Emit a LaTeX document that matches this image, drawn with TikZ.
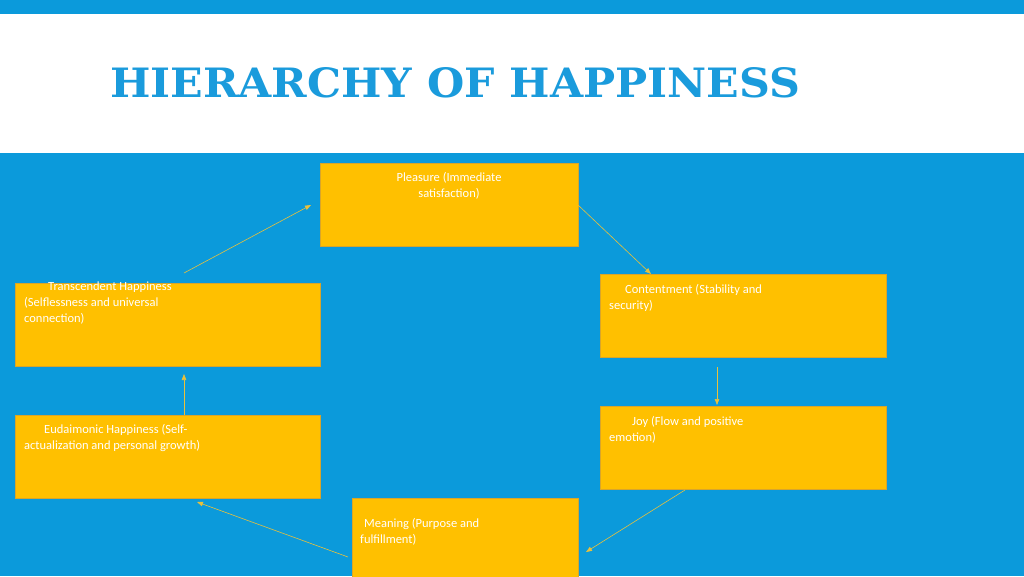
\documentclass[tikz,border=0pt]{standalone}
\usepackage{fontspec}
\setmainfont{Carlito}
\newfontfamily\titlefont{DejaVu Serif}
\usetikzlibrary{arrows.meta}
\definecolor{bg}{HTML}{0B9ADB}
\definecolor{ttl}{HTML}{1A9BDC}
\definecolor{box}{HTML}{FFC000}
\definecolor{boxb}{HTML}{D9A52A}
\definecolor{arr}{HTML}{E9C13C}
\tikzset{x=1pt,y=1pt,
 hb/.style={fill=box,draw=boxb,line width=0.8pt},
 tx/.style={text=white,font=\fontsize{12.5}{16}\selectfont,inner sep=0pt,align=left,anchor=north west},
 ar/.style={arr,line width=0.6pt,-{Triangle[length=6pt,width=4.5pt]}}}
\begin{document}
\begin{tikzpicture}
\useasboundingbox (0,0) rectangle (1024,576);
\fill[bg] (0,0) rectangle (1024,576);
\fill[white] (0,423) rectangle (1024,562);
\node[text=ttl,anchor=west,inner sep=0pt] (title) at (110,493) {\resizebox{690pt}{30pt}{\titlefont\bfseries HIERARCHY OF HAPPINESS}};
% boxes
\draw[hb] (320,330) rectangle (578,413) coordinate (pl);
\draw[hb] (600,219) rectangle (886,302);
\draw[hb] (600,87) rectangle (886,170);
\draw[hb] (352,-2) rectangle (578,78);
\draw[hb] (15,78) rectangle (320,161);
\draw[hb] (15,210) rectangle (320,293);
\node[tx,anchor=north,align=center] (tpl) at (449,404) {Pleasure (Immediate\\satisfaction)};
\node[tx] (tco) at (609,292) {\hspace*{16pt}Contentment (Stability and\\security)};
\node[tx] (tjo) at (609,160) {\hspace*{23pt}Joy (Flow and positive\\emotion)};
\node[tx] (tme) at (360,58) {\hspace*{4pt}Meaning (Purpose and\\fulfillment)};
\node[tx] (teu) at (24,152) {\hspace*{20pt}Eudaimonic Happiness (Self-\\actualization and personal growth)};
\node[tx] (ttr) at (24,294) {\hspace*{24pt}Transcendent Happiness\\(Selflessness and universal\\connection)};
% arrows
\coordinate (a1) at (578,371); \coordinate (b1) at (651,302);
\coordinate (a2) at (717,209); \coordinate (b2) at (717,171);
\coordinate (a3) at (685,86); \coordinate (b3) at (586,24);
\coordinate (a4) at (348,19); \coordinate (b4) at (197,74);
\coordinate (a5) at (184,161); \coordinate (b5) at (184,202);
\coordinate (a6) at (184,303); \coordinate (b6) at (311,371);
\draw[ar] (a1) -- (b1);
\draw[ar] (a2) -- (b2);
\draw[ar] (a3) -- (b3);
\draw[ar] (a4) -- (b4);
\draw[ar] (a5) -- (b5);
\draw[ar] (a6) -- (b6);
\end{tikzpicture}
\end{document}
